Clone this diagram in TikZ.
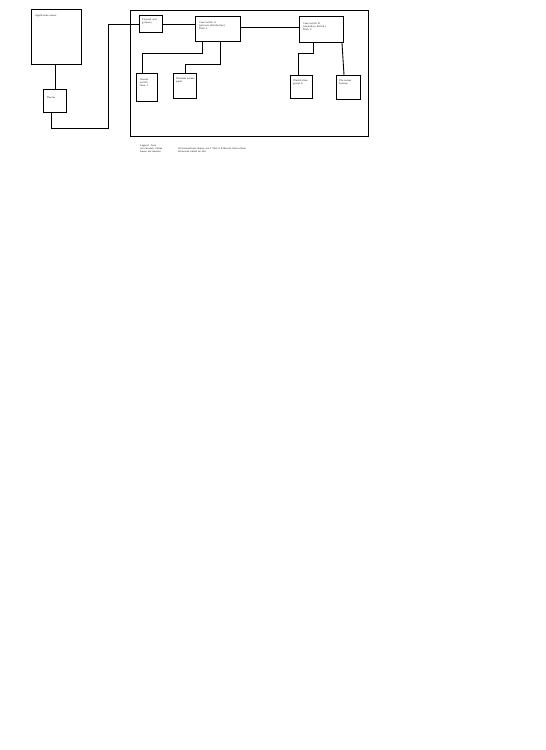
\documentclass[tikz,border=0pt]{standalone}
\usepackage{tikz}
\usetikzlibrary{positioning}
\tikzset{
	dev/.style={rectangle, draw, line width=1.1pt, inner sep=0pt, anchor=north west},
	lbl/.style={anchor=north west, align=left, inner sep=0pt, font=\sffamily\fontsize{2.7pt}{3.3pt}\selectfont, text=black!80},
	wire/.style={draw, line width=0.9pt}
}

\begin{document}
\begin{tikzpicture}[x=1pt,y=-1pt]
		\useasboundingbox [fill=white] (0,0) rectangle (546,750);
		% outside the rack
		\node (host) at (31,9) [dev, minimum width=50pt, minimum height=55pt] {};
		\node (hostt) at (host.north west) [lbl, xshift=4pt, yshift=-5pt] {Application server};
		\node (rtr) at (43,89) [dev, minimum width=23pt, minimum height=23pt] {};
		\node (rtrt) at (rtr.north west) [lbl, xshift=4pt, yshift=-7pt] {Router};
		% rack frame
		\node (rack) at (130,10) [dev, minimum width=238pt, minimum height=126pt] {};
		\node (fw) at (139,15) [dev, minimum width=23pt, minimum height=17pt] {};
		\node (fwt) at (fw.north west) [lbl, xshift=3pt, yshift=-3pt] {Firewall and\\gateway};
		\node (swa) at (195,16) [dev, minimum width=45pt, minimum height=25pt] {};
		\node (swat) at (swa.north west) [lbl, xshift=4pt, yshift=-5pt] {Core switch A\\(primary distribution)\\Rack 1};
		\node (swb) at (299,16) [dev, minimum width=44pt, minimum height=26pt] {};
		\node (swbt) at (swb.north west) [lbl, xshift=4pt, yshift=-6pt] {Core switch B\\(secondary distrib.)\\Rack 2};
		\node (acc) at (136,73) [dev, minimum width=21pt, minimum height=28pt] {};
		\node (acct) at (acc.north west) [lbl, xshift=4pt, yshift=-5pt] {Access\\switch\\floor 1};
		\node (wap) at (173,73) [dev, minimum width=23pt, minimum height=25pt] {};
		\node (wapt) at (wap.north west) [lbl, xshift=3pt, yshift=-4pt] {Wireless access\\point};
		\node (ws) at (290,75) [dev, minimum width=22pt, minimum height=23pt] {};
		\node (wst) at (ws.north west) [lbl, xshift=3pt, yshift=-4pt] {Workstation\\group A};
		\node (fs) at (336,75) [dev, minimum width=24pt, minimum height=24pt] {};
		\node (fst) at (fs.north west) [lbl, xshift=3pt, yshift=-4pt] {File server\\backup};
		% notes under the rack
		\node (key) at (140,144) [lbl] {Legend: lines\\are network cables\\boxes are devices};
		\node (note) at (178,147) [lbl] {All connections shown are 1 Gbit/s Ethernet links unless\\otherwise noted on site};
		% cables
		\path [wire] (host.south-|55,0) -- (rtr.north-|55,0);
		\path [wire] (rtr.south-|51,0) -- ++(0,15) coordinate (c1) -- (c1-|108,0) coordinate (c2) -- (c2|-fw.west) -- (fw.west);
		\path [wire] (fw.east) -- (fw.east-|swa.west);
		\path [wire] (swa.east|-0,27) -- (swb.west|-0,27);
		\path [wire] (swa.south-|202,0) -- ++(0,11) coordinate (c3) -- (c3-|142,0) coordinate (c4) -- (c4|-acc.north);
		\path [wire] (swa.south-|220,0) -- ++(0,22) coordinate (c5) -- (c5-|185,0) coordinate (c6) -- (c6|-wap.north);
		\path [wire] (swb.south-|313,0) -- ++(0,10) coordinate (c7) -- (c7-|298,0) coordinate (c8) -- (c8|-ws.north);
		\path [wire] (swb.south-|342,0) -- (fs.north-|344,0);
	\end{tikzpicture}
\end{document}
